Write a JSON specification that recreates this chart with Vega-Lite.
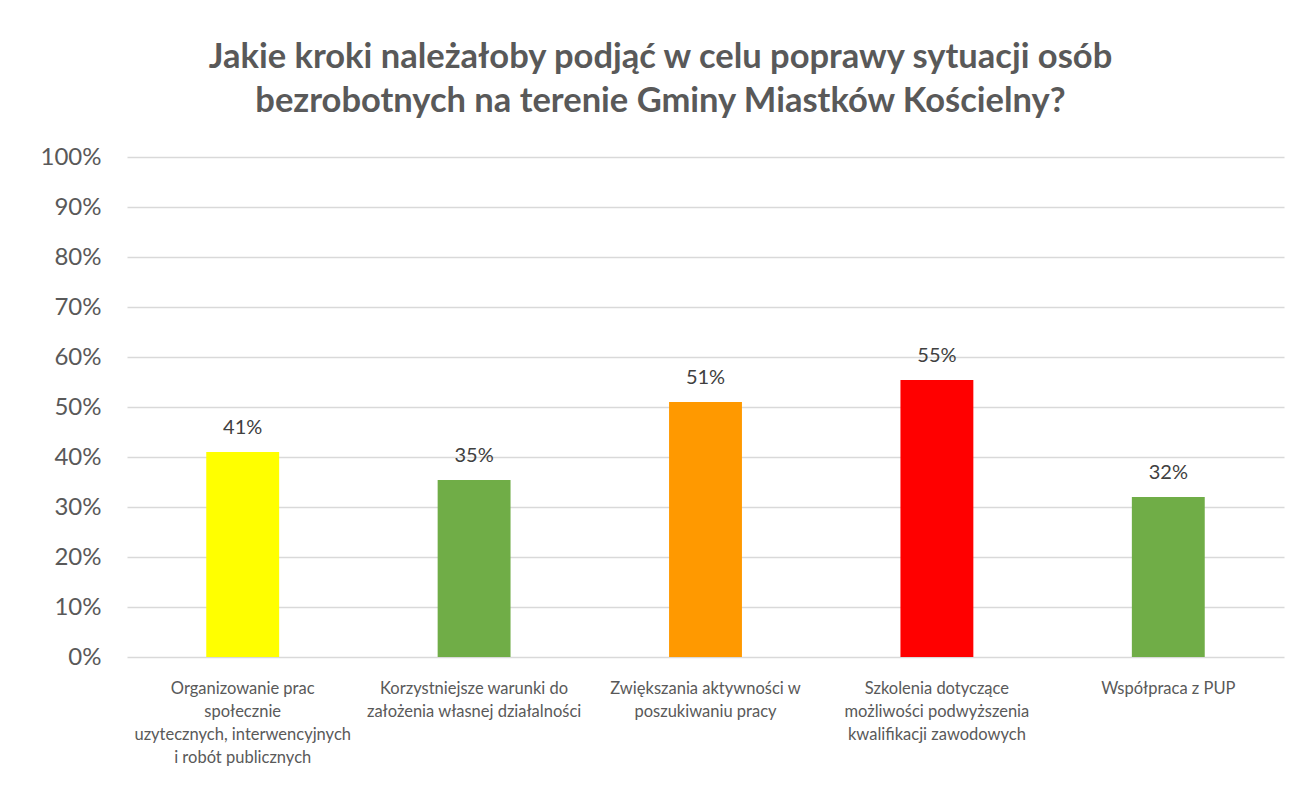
{
  "$schema": "https://vega.github.io/schema/vega-lite/v6.json",
  "autosize": {"type": "none"},
  "width": 1157,
  "height": 500,
  "padding": {"left": 127, "top": 157, "right": 20, "bottom": 134},
  "background": "#ffffff",
  "title": {
    "text": ["Jakie kroki należałoby podjąć w celu poprawy sytuacji osób", "bezrobotnych na terenie Gminy Miastków Kościelny?"],
    "font": "Lato",
    "fontSize": 34.5,
    "fontWeight": "bold",
    "color": "#595959",
    "lineHeight": 44,
    "anchor": "middle",
    "frame": "group",
    "dx": -45,
    "offset": 26
  },
  "data": {
    "values": [
      {"category": "Organizowanie prac|społecznie|uzytecznych, interwencyjnych|i robót publicznych", "value": 0.41},
      {"category": "Korzystniejsze warunki do|założenia własnej działalności", "value": 0.354},
      {"category": "Zwiększania aktywności w|poszukiwaniu pracy", "value": 0.51},
      {"category": "Szkolenia dotyczące|możliwości podwyższenia|kwalifikacji zawodowych", "value": 0.554},
      {"category": "Współpraca z PUP", "value": 0.32}
    ]
  },
  "encoding": {
    "x": {
      "field": "category",
      "type": "nominal",
      "sort": null,
      "scale": {"paddingInner": 0, "paddingOuter": 0},
      "axis": {
        "title": null,
        "labelAngle": 0,
        "labelExpr": "split(datum.value, '|')",
        "labelFont": "Lato",
        "labelFontSize": 16.5,
        "labelColor": "#595959",
        "labelLineHeight": 23,
        "labelPadding": 23,
        "labelBaseline": "top",
        "labelLimit": 0,
        "ticks": false,
        "tickSize": 0,
        "domain": false,
        "grid": false
      }
    },
    "y": {
      "field": "value",
      "type": "quantitative",
      "scale": {"domain": [0, 1], "nice": false},
      "axis": {
        "title": null,
        "values": [0, 0.1, 0.2, 0.3, 0.4, 0.5, 0.6, 0.7, 0.8, 0.9, 1],
        "format": ".0%",
        "labelFont": "Lato",
        "labelFontSize": 24,
        "labelColor": "#595959",
        "labelPadding": 26,
        "ticks": false,
        "tickSize": 0,
        "domain": false,
        "grid": true,
        "gridColor": "#d9d9d9",
        "gridWidth": 1.3
      }
    }
  },
  "layer": [
    {
      "mark": {"type": "bar", "width": {"band": 0.315}},
      "encoding": {
        "color": {
          "field": "category",
          "type": "nominal",
          "scale": {
            "domain": [
              "Organizowanie prac|społecznie|uzytecznych, interwencyjnych|i robót publicznych",
              "Korzystniejsze warunki do|założenia własnej działalności",
              "Zwiększania aktywności w|poszukiwaniu pracy",
              "Szkolenia dotyczące|możliwości podwyższenia|kwalifikacji zawodowych",
              "Współpraca z PUP"
            ],
            "range": ["#ffff00", "#70ad47", "#ff9900", "#ff0000", "#70ad47"]
          },
          "legend": null
        }
      }
    },
    {
      "mark": {"type": "text", "baseline": "bottom", "dy": -14, "font": "Lato", "fontSize": 20, "color": "#404040"},
      "encoding": {
        "text": {"field": "value", "type": "quantitative", "format": ".0%"}
      }
    }
  ],
  "config": {"view": {"stroke": null}}
}
